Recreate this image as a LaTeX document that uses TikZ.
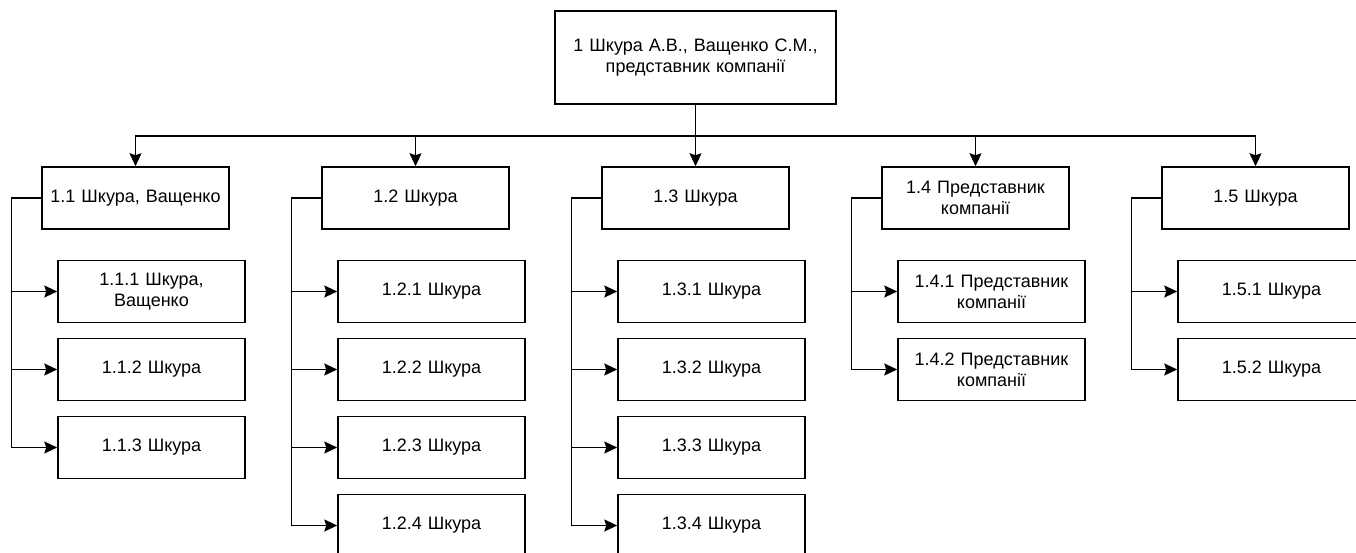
\documentclass[tikz,border=0pt]{standalone}
\usepackage{fontspec}
\setmainfont{Liberation Sans}
\usetikzlibrary{arrows.meta}
\begin{document}
\begin{tikzpicture}[x=1pt,y=-1pt,
  box/.style={draw=black,line width=1.5pt,minimum width=187pt,minimum height=62pt,inner sep=2pt,align=center,text width=180pt,font=\fontsize{18}{21}\selectfont},
  topbox/.style={box,minimum width=281pt,minimum height=93pt,text width=275pt},
  arr/.style={draw=black,line width=1.5pt,-{Stealth[length=13pt,width=12pt,inset=2pt]}}]
\useasboundingbox (0,0) rectangle (1356,553);
\begin{scope}
\clip (0,0) rectangle (1356,553);
\node[topbox] (top) at (695.5,57.5) {1 Шкура А.В., Ващенко С.М.,\\представник компанії};
\coordinate (bus) at (695.5,136);
\node[box] (l1) at (135.5,198) {1.1 Шкура, Ващенко};
\node[box] (l2) at (415.5,198) {1.2 Шкура};
\node[box] (l3) at (695.5,198) {1.3 Шкура};
\node[box] (l4) at (975.5,198) {1.4 Представник\\компанії};
\node[box] (l5) at (1255.5,198) {1.5 Шкура};
\foreach \i in {1,...,5}{
  \draw[arr] (top.south) -- (top.south |- bus) -| (l\i.north);
}
% group 1.1
\node[box] (c11) at (151.5,291.5) {1.1.1 Шкура,\\Ващенко};
\node[box] (c12) at (151.5,369.5) {1.1.2 Шкура};
\node[box] (c13) at (151.5,447.5) {1.1.3 Шкура};
% group 1.2
\node[box] (c21) at (431.5,291.5) {1.2.1 Шкура};
\node[box] (c22) at (431.5,369.5) {1.2.2 Шкура};
\node[box] (c23) at (431.5,447.5) {1.2.3 Шкура};
\node[box] (c24) at (431.5,525.5) {1.2.4 Шкура};
% group 1.3
\node[box] (c31) at (711.5,291.5) {1.3.1 Шкура};
\node[box] (c32) at (711.5,369.5) {1.3.2 Шкура};
\node[box] (c33) at (711.5,447.5) {1.3.3 Шкура};
\node[box] (c34) at (711.5,525.5) {1.3.4 Шкура};
% group 1.4
\node[box] (c41) at (991.5,291.5) {1.4.1 Представник\\компанії};
\node[box] (c42) at (991.5,369.5) {1.4.2 Представник\\компанії};
% group 1.5
\node[box] (c51) at (1271.5,291.5) {1.5.1 Шкура};
\node[box] (c52) at (1271.5,369.5) {1.5.2 Шкура};
\foreach \p/\c in {1/1,1/2,1/3,2/1,2/2,2/3,2/4,3/1,3/2,3/3,3/4,4/1,4/2,5/1,5/2}{
  \draw[arr] (l\p.west) -- ++(-30,0) |- (c\p\c.west);
}
\end{scope}
\end{tikzpicture}
\end{document}
